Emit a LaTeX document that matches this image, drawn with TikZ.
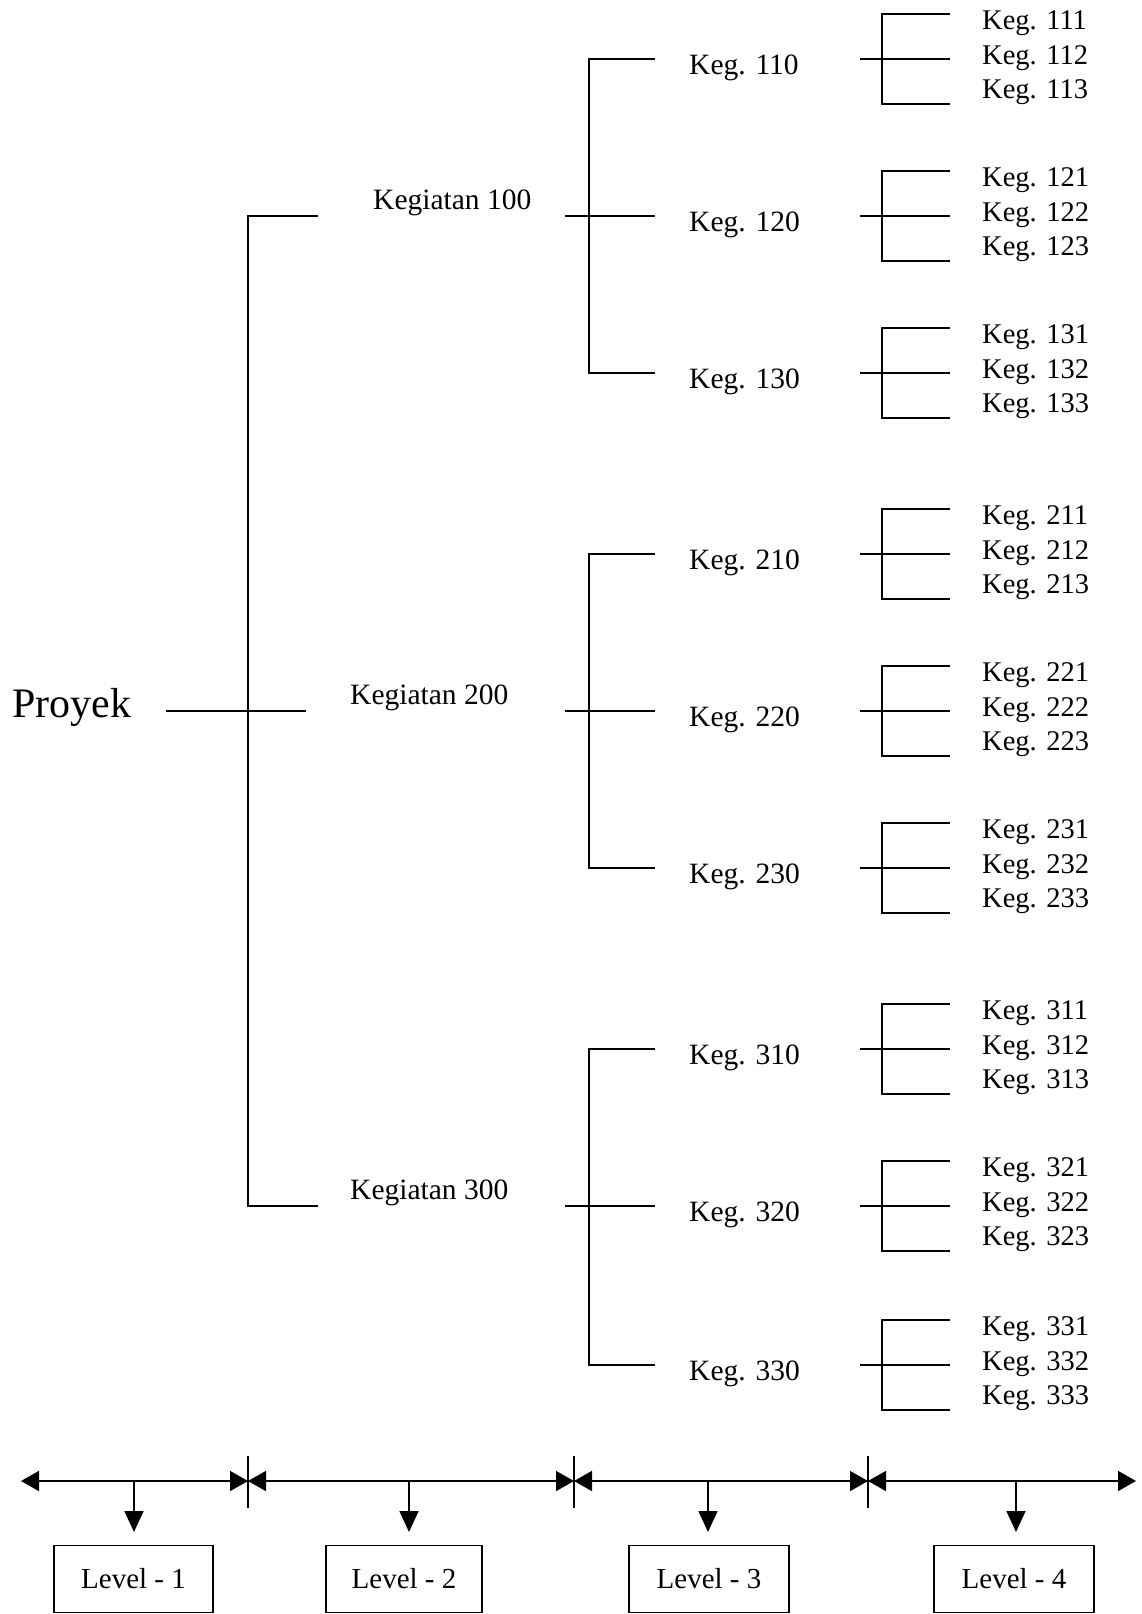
\documentclass[tikz,border=0pt]{standalone}
\usepackage{fontspec}
\setmainfont{Liberation Serif}
\usetikzlibrary{arrows.meta,calc}
\begin{document}
\begin{tikzpicture}[x=1pt,y=-1pt,
  ln/.style={line width=1.6pt},
  lbl/.style={font=\fontsize{29.5}{30}\selectfont, anchor=base west, inner sep=0pt},
  lblf/.style={font=\fontsize{28.5}{30}\selectfont, anchor=base west, inner sep=0pt},
  lvl/.style={draw, line width=1.4pt, minimum width=159pt, minimum height=67pt, inner sep=0pt, font=\fontsize{29}{30}\selectfont},
  dbl/.style={line width=1.6pt, {Triangle[length=18pt,width=20pt]}-{Triangle[length=18pt,width=20pt]}},
  down/.style={line width=1.6pt, -{Triangle[length=21pt,width=19pt]}}]
\useasboundingbox (0,0) rectangle (1141,1614);

% Level 1
\node[anchor=base west, inner sep=0pt, font=\fontsize{42}{42}\selectfont] (proyek) at (12,717) {Proyek};
\coordinate (p0) at (166,711);
\coordinate (vt) at (248,216);
\coordinate (vb) at (248,1206);
\draw[ln] (p0) -- (306,711);
\draw[ln] (318,216) -- (vt) -- (vb) -- (318,1206);

% Level 2 texts
\node[lbl] (k100) at (373,209) {Kegiatan 100};
\node[lbl] (k200) at (350,704) {Kegiatan 200};
\node[lbl] (k300) at (350,1199) {Kegiatan 300};

% Levels 3 and 4
\foreach \g/\a/\b/\c in {1/59/216/373, 2/554/711/868, 3/1049/1206/1365} {
  \draw[ln] (565,\b) -- (655,\b);
  \draw[ln] (655,\a) -- (589,\a) -- (589,\c) -- (655,\c);
  \foreach \s/\m in {1/\a,2/\b,3/\c} {
    \node[lbl] (k\g\s0) at (689,\m+15) {Keg. \g\s0};
    \draw[ln] (860,\m) -- (950,\m);
    \draw[ln] (950,\m-45) -- (882,\m-45) -- (882,\m+45) -- (950,\m+45);
    \foreach \t/\o in {1/-29.5,2/5,3/39.5}
      \node[lblf] (k\g\s\t) at (982,\m+\o) {Keg. \g\s\t};
  }
}

% Bottom scale
\coordinate (s0) at (21,1481);
\coordinate (s1) at (248,1481);
\coordinate (s2) at (574,1481);
\coordinate (s3) at (868,1481);
\coordinate (s4) at (1136,1481);
\draw[dbl] (s0) -- (s1);
\draw[dbl] (s1) -- (s2);
\draw[dbl] (s2) -- (s3);
\draw[dbl] (s3) -- (s4);
\foreach \x in {248,574,868} \draw[line width=1.2pt] (\x,1456) -- (\x,1508);

\node[lvl] (L1) at (133.5,1579) {Level - 1};
\node[lvl, minimum width=156pt] (L2) at (404,1579) {Level - 2};
\node[lvl, minimum width=160pt] (L3) at (709,1579) {Level - 3};
\node[lvl, minimum width=160pt] (L4) at (1014,1579) {Level - 4};

\foreach \n/\x in {L1/134,L2/409,L3/708,L4/1016}
  \draw[down] (\x,1481) -- (\x,1532);
\end{tikzpicture}
\end{document}
